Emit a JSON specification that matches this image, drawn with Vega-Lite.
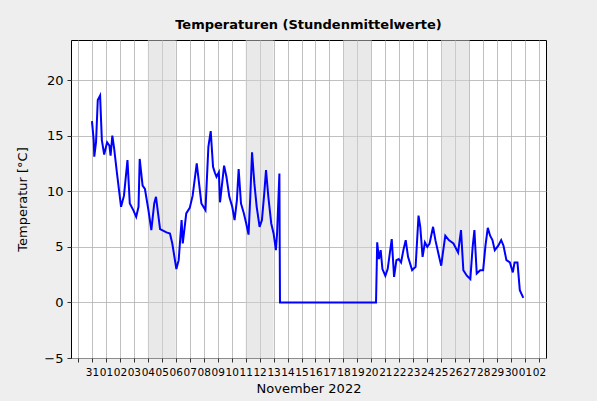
{
  "$schema": "https://vega.github.io/schema/vega-lite/v6.json",
  "width": 475,
  "height": 318,
  "autosize": {"type": "none"},
  "padding": {"left": 71, "top": 40, "right": 51, "bottom": 43},
  "background": "#eeeeee",
  "title": {"text": "Temperaturen (Stundenmittelwerte)", "fontSize": 13, "fontWeight": "bold", "font": "DejaVu Sans", "color": "black", "offset": 8, "anchor": "middle"},
  "config": {
    "font": "DejaVu Sans",
    "view": {"stroke": "black", "strokeWidth": 1, "fill": "white"},
    "axis": {"domain": false, "tickColor": "black", "tickWidth": 0.8, "tickSize": 4, "gridColor": "#b0b0b0", "gridWidth": 0.8, "labelColor": "black", "titleColor": "black", "titleFontWeight": "normal"}
  },
  "datasets": {
    "temps": [
      {"t": "2022-10-31T00:00", "v": 16.3},
      {"t": "2022-10-31T03:00", "v": 14.6},
      {"t": "2022-10-31T04:00", "v": 13.1},
      {"t": "2022-10-31T07:00", "v": 14.4},
      {"t": "2022-10-31T10:00", "v": 18.2},
      {"t": "2022-10-31T14:00", "v": 18.6},
      {"t": "2022-10-31T17:00", "v": 14.6},
      {"t": "2022-10-31T21:00", "v": 13.3},
      {"t": "2022-11-01T02:00", "v": 14.4},
      {"t": "2022-11-01T06:00", "v": 14.1},
      {"t": "2022-11-01T08:00", "v": 13.2},
      {"t": "2022-11-01T11:00", "v": 15.0},
      {"t": "2022-11-01T14:00", "v": 13.9},
      {"t": "2022-11-01T19:00", "v": 11.6},
      {"t": "2022-11-02T02:00", "v": 8.6},
      {"t": "2022-11-02T07:00", "v": 9.6},
      {"t": "2022-11-02T13:00", "v": 12.8},
      {"t": "2022-11-02T17:00", "v": 8.9},
      {"t": "2022-11-02T23:00", "v": 8.3},
      {"t": "2022-11-03T04:00", "v": 7.7},
      {"t": "2022-11-03T08:00", "v": 8.6},
      {"t": "2022-11-03T10:00", "v": 12.9},
      {"t": "2022-11-03T15:00", "v": 10.5},
      {"t": "2022-11-03T19:00", "v": 10.2},
      {"t": "2022-11-04T01:00", "v": 8.3},
      {"t": "2022-11-04T06:00", "v": 6.5},
      {"t": "2022-11-04T11:00", "v": 8.9},
      {"t": "2022-11-04T14:00", "v": 9.5},
      {"t": "2022-11-04T21:00", "v": 6.6},
      {"t": "2022-11-05T08:00", "v": 6.3},
      {"t": "2022-11-05T14:00", "v": 6.2},
      {"t": "2022-11-05T18:00", "v": 5.3},
      {"t": "2022-11-06T01:00", "v": 3.0},
      {"t": "2022-11-06T05:00", "v": 3.8},
      {"t": "2022-11-06T10:00", "v": 7.4},
      {"t": "2022-11-06T12:00", "v": 5.3},
      {"t": "2022-11-06T18:00", "v": 8.0},
      {"t": "2022-11-07T00:00", "v": 8.5},
      {"t": "2022-11-07T05:00", "v": 9.6},
      {"t": "2022-11-07T12:00", "v": 12.5},
      {"t": "2022-11-07T20:00", "v": 8.9},
      {"t": "2022-11-08T03:00", "v": 8.3},
      {"t": "2022-11-08T08:00", "v": 14.0},
      {"t": "2022-11-08T12:00", "v": 15.4},
      {"t": "2022-11-08T16:00", "v": 12.2},
      {"t": "2022-11-08T19:00", "v": 11.7},
      {"t": "2022-11-08T22:00", "v": 11.3},
      {"t": "2022-11-09T02:00", "v": 11.7},
      {"t": "2022-11-09T04:00", "v": 9.0},
      {"t": "2022-11-09T11:00", "v": 12.3},
      {"t": "2022-11-09T15:00", "v": 11.3},
      {"t": "2022-11-09T20:00", "v": 9.5},
      {"t": "2022-11-10T01:00", "v": 8.6},
      {"t": "2022-11-10T05:00", "v": 7.4},
      {"t": "2022-11-10T09:00", "v": 9.2},
      {"t": "2022-11-10T12:00", "v": 12.0},
      {"t": "2022-11-10T16:00", "v": 8.9},
      {"t": "2022-11-10T21:00", "v": 8.0},
      {"t": "2022-11-11T01:00", "v": 7.1},
      {"t": "2022-11-11T05:00", "v": 6.1},
      {"t": "2022-11-11T08:00", "v": 9.5},
      {"t": "2022-11-11T11:00", "v": 13.5},
      {"t": "2022-11-11T15:00", "v": 10.7},
      {"t": "2022-11-11T19:00", "v": 8.6},
      {"t": "2022-11-12T00:00", "v": 6.8},
      {"t": "2022-11-12T04:00", "v": 7.4},
      {"t": "2022-11-12T08:00", "v": 9.8},
      {"t": "2022-11-12T11:00", "v": 11.9},
      {"t": "2022-11-12T15:00", "v": 9.5},
      {"t": "2022-11-12T20:00", "v": 7.1},
      {"t": "2022-11-13T00:00", "v": 6.2},
      {"t": "2022-11-13T04:00", "v": 4.7},
      {"t": "2022-11-13T06:00", "v": 6.2},
      {"t": "2022-11-13T10:00", "v": 11.6},
      {"t": "2022-11-13T11:00", "v": 0},
      {"t": "2022-11-20T08:00", "v": 0},
      {"t": "2022-11-20T10:00", "v": 5.4},
      {"t": "2022-11-20T13:00", "v": 3.9},
      {"t": "2022-11-20T16:00", "v": 4.7},
      {"t": "2022-11-20T19:00", "v": 3.0},
      {"t": "2022-11-21T00:00", "v": 2.4},
      {"t": "2022-11-21T04:00", "v": 3.0},
      {"t": "2022-11-21T11:00", "v": 5.7},
      {"t": "2022-11-21T15:00", "v": 2.3},
      {"t": "2022-11-21T19:00", "v": 3.8},
      {"t": "2022-11-21T23:00", "v": 3.9},
      {"t": "2022-11-22T03:00", "v": 3.6},
      {"t": "2022-11-22T07:00", "v": 4.7},
      {"t": "2022-11-22T11:00", "v": 5.6},
      {"t": "2022-11-22T15:00", "v": 4.1},
      {"t": "2022-11-22T22:00", "v": 2.9},
      {"t": "2022-11-23T04:00", "v": 3.2},
      {"t": "2022-11-23T09:00", "v": 7.8},
      {"t": "2022-11-23T12:00", "v": 6.8},
      {"t": "2022-11-23T16:00", "v": 4.1},
      {"t": "2022-11-23T20:00", "v": 5.4},
      {"t": "2022-11-24T00:00", "v": 5.0},
      {"t": "2022-11-24T04:00", "v": 5.3},
      {"t": "2022-11-24T10:00", "v": 6.8},
      {"t": "2022-11-24T14:00", "v": 5.6},
      {"t": "2022-11-24T20:00", "v": 4.2},
      {"t": "2022-11-25T00:00", "v": 3.3},
      {"t": "2022-11-25T03:00", "v": 4.5},
      {"t": "2022-11-25T07:00", "v": 6.0},
      {"t": "2022-11-25T13:00", "v": 5.6},
      {"t": "2022-11-25T21:00", "v": 5.3},
      {"t": "2022-11-26T05:00", "v": 4.5},
      {"t": "2022-11-26T10:00", "v": 6.5},
      {"t": "2022-11-26T14:00", "v": 2.9},
      {"t": "2022-11-26T20:00", "v": 2.4},
      {"t": "2022-11-27T02:00", "v": 2.1},
      {"t": "2022-11-27T06:00", "v": 5.0},
      {"t": "2022-11-27T09:00", "v": 6.5},
      {"t": "2022-11-27T13:00", "v": 2.6},
      {"t": "2022-11-27T19:00", "v": 2.9},
      {"t": "2022-11-28T00:00", "v": 2.9},
      {"t": "2022-11-28T04:00", "v": 5.1},
      {"t": "2022-11-28T08:00", "v": 6.7},
      {"t": "2022-11-28T12:00", "v": 6.0},
      {"t": "2022-11-28T16:00", "v": 5.6},
      {"t": "2022-11-28T20:00", "v": 4.7},
      {"t": "2022-11-29T02:00", "v": 5.1},
      {"t": "2022-11-29T07:00", "v": 5.6},
      {"t": "2022-11-29T11:00", "v": 5.1},
      {"t": "2022-11-29T16:00", "v": 3.8},
      {"t": "2022-11-29T22:00", "v": 3.6},
      {"t": "2022-11-30T03:00", "v": 2.7},
      {"t": "2022-11-30T06:00", "v": 3.6},
      {"t": "2022-11-30T11:00", "v": 3.6},
      {"t": "2022-11-30T15:00", "v": 1.1},
      {"t": "2022-11-30T21:00", "v": 0.4}
    ],
    "weekends": [
      {"start": "2022-11-04T00:00", "end": "2022-11-06T00:00"},
      {"start": "2022-11-11T00:00", "end": "2022-11-13T00:00"},
      {"start": "2022-11-18T00:00", "end": "2022-11-20T00:00"},
      {"start": "2022-11-25T00:00", "end": "2022-11-27T00:00"}
    ]
  },
  "layer": [
    {
      "data": {"name": "weekends"},
      "mark": {"type": "rect", "color": "#d3d3d3", "opacity": 0.5},
      "encoding": {
        "x": {
          "field": "start", "type": "temporal",
          "scale": {"domain": [{"year": 2022, "month": 10, "date": 29, "hours": 12}, {"year": 2022, "month": 12, "date": 2, "hours": 12}], "nice": false},
          "axis": {
            "title": "November 2022", "titleFontSize": 13, "titlePadding": 5,
            "tickCount": {"interval": "day", "step": 1},
            "labelExpr": "timeFormat(datum.value, '%m%d') == '1030' ? '' : timeFormat(datum.value, '%d')",
            "labelFontSize": 10.5, "labelOverlap": false, "labelFlush": false, "labelBound": false, "labelPadding": 5
          }
        },
        "x2": {"field": "end"}
      }
    },
    {
      "data": {"name": "temps"},
      "mark": {"type": "line", "color": "#0000ff", "strokeWidth": 2},
      "encoding": {
        "x": {"field": "t", "type": "temporal"},
        "y": {
          "field": "v", "type": "quantitative",
          "scale": {"domain": [-5, 23.6], "nice": false, "zero": false},
          "axis": {"title": "Temperatur [°C]", "titleFontSize": 13, "values": [-5, 0, 5, 10, 15, 20], "labelFontSize": 13, "labelPadding": 4, "titlePadding": 14}
        }
      }
    }
  ]
}
